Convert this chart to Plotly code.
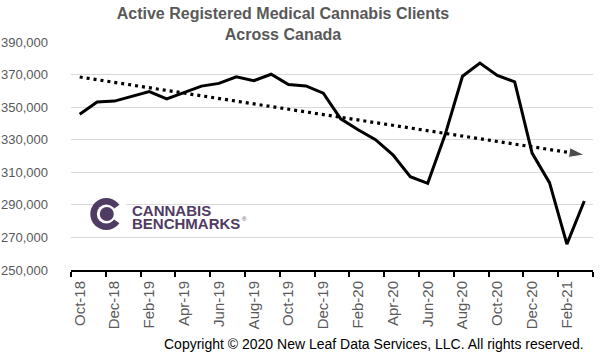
import plotly.graph_objects as go

months = ["Oct-18", "Nov-18", "Dec-18", "Jan-19", "Feb-19", "Mar-19", "Apr-19", "May-19",
          "Jun-19", "Jul-19", "Aug-19", "Sep-19", "Oct-19", "Nov-19", "Dec-19", "Jan-20",
          "Feb-20", "Mar-20", "Apr-20", "May-20", "Jun-20", "Jul-20", "Aug-20", "Sep-20",
          "Oct-20", "Nov-20", "Dec-20", "Jan-21", "Feb-21", "Mar-21"]
clients = [345700, 353100, 353700, 356800, 359500, 355100, 359000, 362900, 364600, 368600,
           366200, 370200, 363900, 363000, 358600, 342800, 336100, 330000, 320700, 307300,
           303200, 333000, 369000, 377100, 369500, 365500, 321800, 303600, 265900, 292400]
trend_values = [368500, 320700]
y_ticks = [250000, 270000, 290000, 310000, 330000, 350000, 370000, 390000]

FONT = "Liberation Sans"
GREY = "#595959"
PURPLE = "#4f3b63"

idx = list(range(len(months)))
label_idx = idx[::2]
label_text = months[::2]

fig = go.Figure()
fig.add_trace(go.Scatter(
    x=idx, y=clients, mode="lines",
    line=dict(color="black", width=3), hoverinfo="skip", showlegend=False))
fig.add_trace(go.Scatter(
    x=[idx[0], idx[-1]], y=trend_values, mode="lines+markers",
    line=dict(color="black", width=3.2, dash="3px,4px"),
    marker=dict(symbol="arrow", size=[0, 16], color="black", angleref="previous"),
    hoverinfo="skip", showlegend=False))

# plot area pixel geometry
L, R, T, B = 71, 7, 42, 87
W, H = 600, 357
pw, ph = W - L - R, H - T - B


def px(x):
    return (x - L) / pw


def py(y):
    return (H - B - y) / ph


fig.update_layout(
    width=W, height=H, autosize=False,
    margin=dict(l=L, r=R, t=T, b=B),
    paper_bgcolor="white", plot_bgcolor="white",
    font=dict(family=FONT, color=GREY),
    title=dict(text="<b>Active Registered Medical Cannabis Clients<br>Across Canada</b>",
               font=dict(family=FONT, size=16, color=GREY),
               x=283 / W, xref="container", xanchor="center",
               y=1 - 19 / H, yref="container", yanchor="top"),
    xaxis=dict(range=[-0.5, len(months) - 0.5], tickmode="array",
               tickvals=label_idx, ticktext=label_text, tickangle=-90,
               tickfont=dict(family=FONT, size=15, color=GREY),
               ticks="outside", ticklen=3, tickcolor="rgba(0,0,0,0)",
               minor=dict(tickmode="linear", tick0=-0.5, dtick=2, ticks="outside",
                          ticklen=5, tickwidth=2, tickcolor="black", showgrid=False),
               showline=True, linecolor="black", linewidth=2, automargin=False,
               showgrid=False, zeroline=False, fixedrange=True),
    yaxis=dict(range=[y_ticks[0], y_ticks[-1]], tickmode="array", tickvals=y_ticks,
               tickformat=",", tickfont=dict(family=FONT, size=13, color=GREY),
               ticks="", ticklabelstandoff=22, automargin=False,
               showgrid=True, gridcolor="#d9d9d9", gridwidth=1,
               showline=False, zeroline=False, fixedrange=True),
)

# logo icon
cx, cy = px(106.3), py(214)
common = dict(xref="paper", yref="paper", xsizemode="pixel", ysizemode="pixel",
              xanchor=cx, yanchor=cy, layer="above", line=dict(width=0))
fig.add_shape(type="circle", x0=-16, x1=16, y0=-16, y1=16, fillcolor=PURPLE, **common)
fig.add_shape(type="circle", x0=-9.5, x1=9.5, y0=-9.5, y1=9.5, fillcolor="white", **common)
fig.add_shape(type="path", path="M0,0 L20,14 L20,-14 Z", fillcolor="white", **common)
fig.add_shape(type="circle", x0=-6.5, x1=7.5, y0=-7, y1=7, fillcolor=PURPLE, **common)

fig.add_annotation(text="<b>CANNABIS</b>", x=px(130), y=py(210), xref="paper", yref="paper",
                   xanchor="left", yanchor="middle", showarrow=False,
                   font=dict(family=FONT, size=15, color=PURPLE))
fig.add_annotation(text="<b>BENCHMARKS</b>", x=px(130), y=py(223), xref="paper", yref="paper",
                   xanchor="left", yanchor="middle", showarrow=False,
                   font=dict(family=FONT, size=15, color=PURPLE))
fig.add_annotation(text="®", x=px(240), y=py(219), xref="paper", yref="paper",
                   xanchor="left", yanchor="middle", showarrow=False,
                   font=dict(family=FONT, size=6, color=PURPLE))

fig.add_annotation(text="Copyright © 2020 New Leaf Data Services, LLC. All rights reserved.",
                   x=px(586), y=py(343.5), xref="paper", yref="paper",
                   xanchor="right", yanchor="middle", showarrow=False,
                   font=dict(family=FONT, size=14, color="black"))

fig.write_html("out.html", config={"displayModeBar": False},
               post_script="document.body.style.margin='0';")
